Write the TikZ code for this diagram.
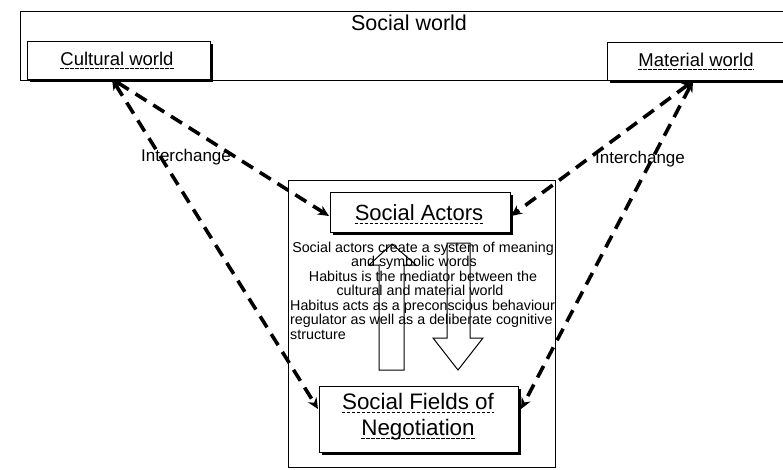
\documentclass[tikz,border=0pt]{standalone}
\usepackage{fontspec}
\setmainfont{Liberation Sans}
\usetikzlibrary{arrows.meta,shadows}
\begin{document}
\begin{tikzpicture}[x=1pt,y=-1pt,
  plainbox/.style={draw,line width=1pt,fill=white,anchor=north west,inner sep=0pt},
  shadbox/.style={plainbox,drop shadow={shadow xshift=2.5pt,shadow yshift=-2.5pt,opacity=1,fill=black}},
  lbl/.style={inner sep=0pt,anchor=base},
  uline/.style={line width=0.8pt,dash pattern=on 3.5pt off 1.5pt},
  link/.style={line width=3.6pt,dash pattern=on 13pt off 8pt,{Stealth[length=11pt,width=10pt]}-{Stealth[length=11pt,width=10pt]}},
  body/.style={inner sep=0pt,font=\fontsize{14.3}{14.5}\selectfont},
  hollow/.style={draw,line width=1pt}
]
\useasboundingbox (0,0) rectangle (783,469);
% Social world
\node[plainbox,minimum width=770pt,minimum height=69pt] (sw) at (20,11) {};
\node[lbl,font=\fontsize{21.5}{24}\selectfont] (swt) at (409,30) {Social world};
% Cultural world
\node[shadbox,minimum width=183pt,minimum height=38pt] (cw) at (27,41) {};
\node[lbl,font=\fontsize{18.5}{20}\selectfont] (cwt) at (117,65) {Cultural world};
\draw[uline] ([yshift=-3pt]cwt.base west) -- ([yshift=-3pt]cwt.base east);
% Material world
\node[shadbox,minimum width=185pt,minimum height=38pt] (mw) at (607,42) {};
\node[lbl,font=\fontsize{18.5}{20}\selectfont] (mwt) at (696,66) {Material world};
\draw[uline] ([yshift=-3pt]mwt.base west) -- ([yshift=-3pt]mwt.base east);
% central box
\node[plainbox,fill=none,minimum width=267pt,minimum height=287pt] (cb) at (288,180) {};
% Social Actors
\node[shadbox,minimum width=180pt,minimum height=40pt] (sa) at (330,192) {};
\node[lbl,font=\fontsize{22}{24}\selectfont] (sat) at (419,220) {Social Actors};
\draw[uline] ([yshift=-3.5pt]sat.base west) -- ([yshift=-3.5pt]sat.base east);
% Social Fields
\node[shadbox,minimum width=199pt,minimum height=66pt] (sf) at (319,386) {};
\node[lbl,font=\fontsize{22.4}{24}\selectfont] (sft1) at (418,409) {Social Fields of};
\draw[uline] ([yshift=-3.5pt]sft1.base west) -- ([yshift=-3.5pt]sft1.base east);
\node[lbl,font=\fontsize{22.4}{24}\selectfont] (sft2) at (418,435) {Negotiation};
\draw[uline] ([yshift=-3.5pt]sft2.base west) -- ([yshift=-3.5pt]sft2.base east);
% body text
\node[body,anchor=base] (b1) at (423,252) {Social actors create a system of meaning};
\node[body,anchor=base] (b2) at (414,266.5) {and symbolic words};
\node[body,anchor=base] (b3) at (423,281) {Habitus is the mediator between the};
\node[body,anchor=base] (b4) at (420,295.5) {cultural and material world};
\node[body,anchor=base west] (b5) at (290,310) {Habitus acts as a preconscious behaviour};
\node[body,anchor=base west] (b6) at (290,324.5) {regulator as well as a deliberate cognitive};
\node[body,anchor=base west] (b7) at (290,339) {structure};
% hollow arrows
\draw[hollow] (379,370) -- (379,265) -- (369,265) -- (392,244) -- (416,265) -- (404,265) -- (404,370) -- cycle;
\draw[hollow] (447,243) -- (447,338) -- (433,338) -- (458,370) -- (483,338) -- (470,338) -- (470,243) -- cycle;
% connectors
\coordinate (cwb) at (112,79);
\coordinate (mwb) at (693,81);
\coordinate (saw) at (329,216);
\coordinate (sae) at (511,216);
\coordinate (sfw) at (318,409);
\coordinate (sfe) at (521,409);
\draw[link] (cwb) -- (saw);
\draw[link] (cwb) -- (sfw);
\draw[link] (mwb) -- (sae);
\draw[link] (mwb) -- (sfe);
\node[lbl,font=\fontsize{17}{19}\selectfont] (ic1) at (186,161) {Interchange};
\node[lbl,font=\fontsize{17}{19}\selectfont] (ic2) at (640,163) {Interchange};
\end{tikzpicture}
\end{document}
